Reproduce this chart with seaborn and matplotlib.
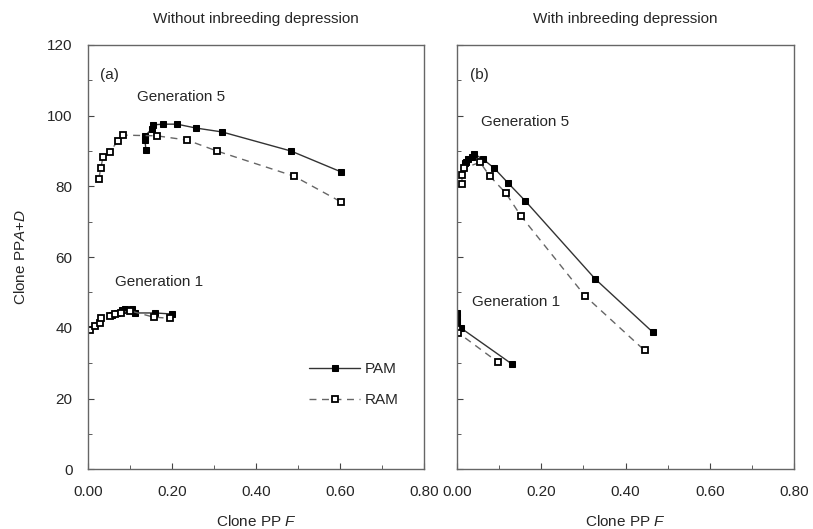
import numpy as np
import pandas as pd
import seaborn as sns
import matplotlib.pyplot as plt
from matplotlib.ticker import MultipleLocator, FormatStrFormatter

# panel (a): without inbreeding depression
a_g5_pam_x = [0.138, 0.136, 0.136, 0.152, 0.155, 0.179, 0.212, 0.257, 0.319, 0.483, 0.602]
a_g5_pam_y = [90.3, 93.1, 94.3, 96.2, 97.4, 97.6, 97.6, 96.5, 95.4, 90.0, 84.1]
a_g5_ram_x = [0.026, 0.031, 0.036, 0.052, 0.071, 0.083, 0.164, 0.236, 0.307, 0.490, 0.602]
a_g5_ram_y = [82.1, 85.2, 88.3, 89.7, 92.8, 94.5, 94.3, 93.1, 90.0, 82.9, 75.6]
a_g1_pam_x = [0.057, 0.069, 0.081, 0.088, 0.105, 0.112, 0.160, 0.200]
a_g1_pam_y = [43.6, 44.2, 45.0, 45.3, 45.3, 44.2, 44.2, 43.9]
a_g1_ram_x = [0.005, 0.017, 0.029, 0.031, 0.052, 0.065, 0.078, 0.100, 0.157, 0.195]
a_g1_ram_y = [39.3, 40.5, 41.3, 42.7, 43.2, 43.8, 44.3, 44.8, 43.0, 42.7]

# panel (b): with inbreeding depression
b_g5_pam_x = [0.019, 0.021, 0.026, 0.036, 0.040, 0.062, 0.088, 0.121, 0.162, 0.328, 0.465]
b_g5_pam_y = [86.5, 86.8, 87.7, 88.3, 89.2, 87.7, 85.2, 81.0, 75.9, 53.8, 38.7]
b_g5_ram_x = [0.012, 0.012, 0.017, 0.055, 0.078, 0.116, 0.152, 0.304, 0.445]
b_g5_ram_y = [80.7, 83.2, 85.2, 86.8, 82.9, 78.1, 71.6, 49.0, 33.6]
b_g1_pam_x = [0.0, 0.0, 0.0, 0.0, 0.010, 0.131]
b_g1_pam_y = [44.2, 43.0, 41.8, 40.8, 39.9, 29.7]
b_g1_ram_x = [0.0, 0.003, 0.097]
b_g1_ram_y = [39.6, 38.6, 30.3]

sns.set_style("ticks")
plt.rcParams['font.family'] = ['Liberation Sans Narrow', 'Liberation Sans', 'DejaVu Sans']
plt.rcParams['mathtext.fontset'] = 'custom'
plt.rcParams['mathtext.it'] = 'Liberation Sans:italic'

fig = plt.figure(figsize=(8.13, 5.29), dpi=100)
ax1 = fig.add_axes([0.108, 0.113, 0.414, 0.802])
ax2 = fig.add_axes([0.562, 0.113, 0.415, 0.802])

pam_kw = dict(color='#333333', linewidth=1.0, marker='s', markersize=5,
              markerfacecolor='black', markeredgecolor='black', linestyle='-')
ram_kw = dict(color='#666666', linewidth=1.0, marker='s', markersize=4.8,
              markerfacecolor='white', markeredgecolor='black', markeredgewidth=1.3,
              linestyle=(0, (5, 4)))


def draw(ax, x, y, kw, label=None):
    df = pd.DataFrame({'x': x, 'y': y})
    sns.lineplot(data=df, x='x', y='y', ax=ax, sort=False, estimator=None,
                 label=label, **kw)


draw(ax1, a_g5_pam_x, a_g5_pam_y, pam_kw, 'PAM')
draw(ax1, a_g5_ram_x, a_g5_ram_y, ram_kw, 'RAM')
draw(ax1, a_g1_pam_x, a_g1_pam_y, pam_kw)
draw(ax1, a_g1_ram_x, a_g1_ram_y, ram_kw)
draw(ax2, b_g5_pam_x, b_g5_pam_y, pam_kw)
draw(ax2, b_g5_ram_x, b_g5_ram_y, ram_kw)
draw(ax2, b_g1_pam_x, b_g1_pam_y, pam_kw)
draw(ax2, b_g1_ram_x, b_g1_ram_y, ram_kw)

for ax in (ax1, ax2):
    ax.set_xlim(0, 0.8)
    ax.set_ylim(0, 120)
    ax.xaxis.set_major_locator(MultipleLocator(0.2))
    ax.xaxis.set_minor_locator(MultipleLocator(0.1))
    ax.yaxis.set_major_locator(MultipleLocator(20))
    ax.yaxis.set_minor_locator(MultipleLocator(10))
    ax.xaxis.set_major_formatter(FormatStrFormatter('%.2f'))
    ax.tick_params(which='both', direction='in', top=False, right=False,
                   labelsize=11, color='#444444')
    ax.tick_params(which='major', length=4, pad=11)
    ax.tick_params(which='minor', length=3)
    for s in ax.spines.values():
        s.set_visible(True)
        s.set_color('#666666')
        s.set_linewidth(1.0)
    ax.set_xlabel('Clone PP $\\it{F}$', fontsize=11, labelpad=11)
    ax.set_ylabel('')

ax2.set_yticklabels([])
ax1.set_ylabel('Clone PP$\\it{A}$+$\\it{D}$', fontsize=11, labelpad=14)

ax1.set_title('Without inbreeding depression', fontsize=11, pad=16)
ax2.set_title('With inbreeding depression', fontsize=11, pad=16)

ax1.text(0.03, 111.5, '(a)', fontsize=11, va='center')
ax2.text(0.03, 111.5, '(b)', fontsize=11, va='center')
ax1.text(0.117, 105.3, 'Generation 5', fontsize=11, va='center')
ax1.text(0.064, 52.9, 'Generation 1', fontsize=11, va='center')
ax2.text(0.057, 98.2, 'Generation 5', fontsize=11, va='center')
ax2.text(0.036, 47.3, 'Generation 1', fontsize=11, va='center')

ax1.legend(loc='upper left', bbox_to_anchor=(0.615, 0.285), frameon=False,
           fontsize=11, handlelength=3.4, labelspacing=1.1, handletextpad=0.3)
if ax2.get_legend():
    ax2.get_legend().remove()

fig.savefig('out.png', dpi=100)
